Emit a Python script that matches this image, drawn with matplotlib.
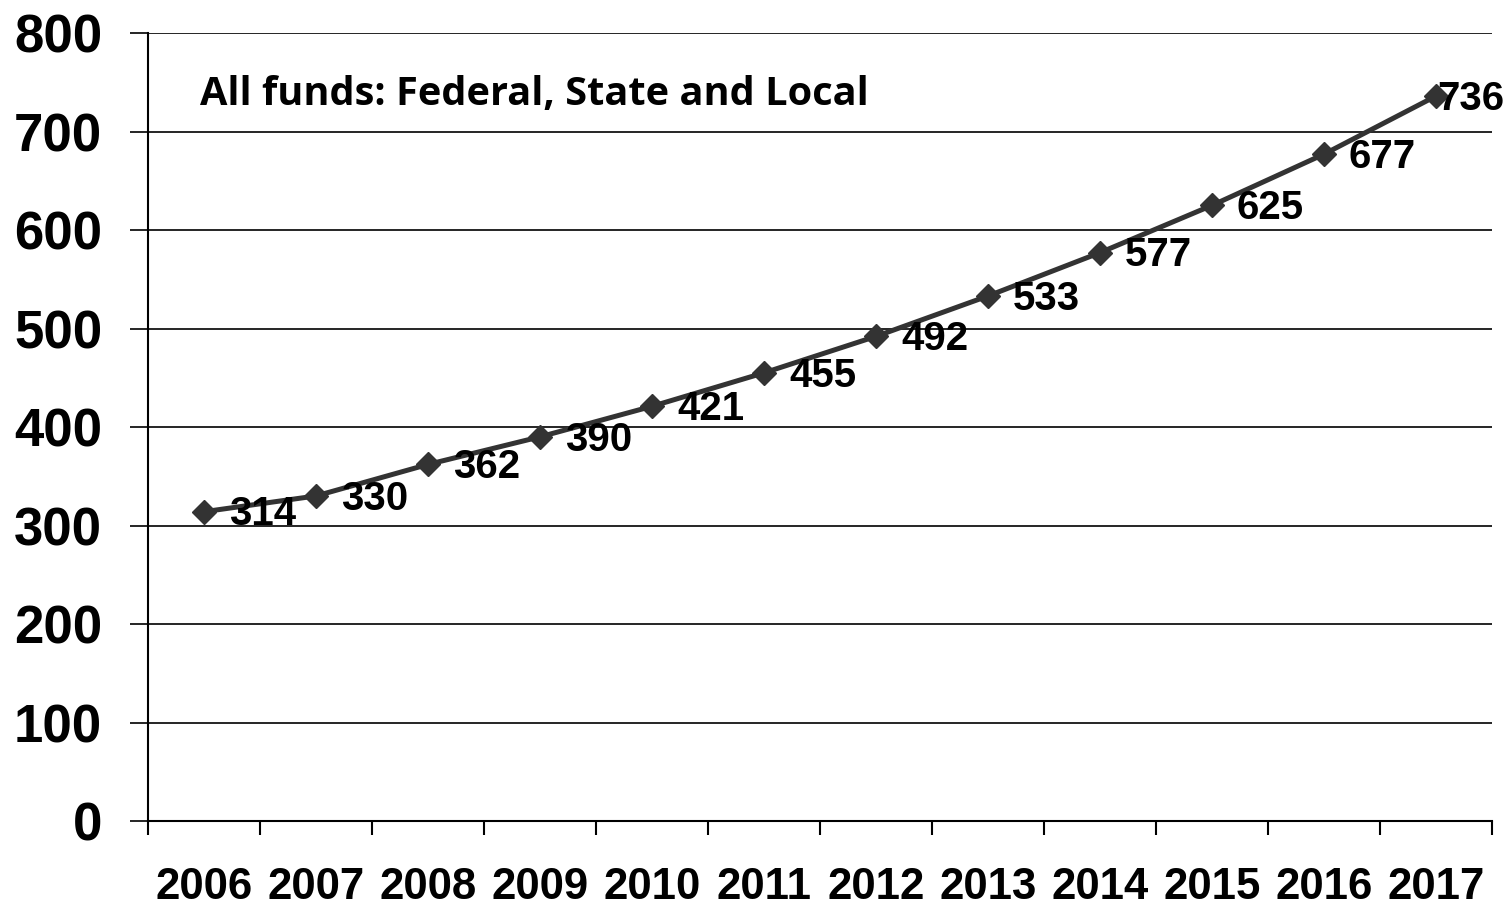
import numpy as np
import matplotlib.pyplot as plt

years = ['2006', '2007', '2008', '2009', '2010', '2011',
         '2012', '2013', '2014', '2015', '2016', '2017']
values = [314, 330, 362, 390, 421, 455, 492, 533, 577, 625, 677, 736]
title_text = 'All funds: Federal, State and Local'

x = np.arange(len(years))

fig = plt.figure(figsize=(15.1, 9.05), dpi=100)
ax = fig.add_axes([148/1510, 1 - 821/905, (1492-148)/1510, (821-33)/905])

ax.plot(x, values, color='#333333', lw=3.6, marker='D', markersize=12.5,
        markerfacecolor='#333333', markeredgecolor='#333333', zorder=3)

for i, (xi, v) in enumerate(zip(x, values)):
    # last label is pushed left so it stays inside the figure
    dx = 1 if i == len(values) - 1 else 18
    ax.annotate(str(v), (xi, v), xytext=(dx, -2), textcoords='offset points',
                ha='left', va='center', fontsize=29, fontweight='bold',
                family='Liberation Sans', color='black', zorder=4)

ax.set_xlim(-0.5, len(years) - 0.5)
ax.set_ylim(0, 800)
ax.set_yticks(np.arange(0, 801, 100))
ax.yaxis.grid(True, color='black', lw=1.2)
ax.set_axisbelow(True)

ax.set_xticks(x)
ax.set_xticklabels(years)
ax.set_xticks(np.arange(-0.5, len(years)), minor=True)
ax.tick_params(axis='x', which='major', length=0, pad=33)
ax.tick_params(axis='x', which='minor', length=10, width=1.5, direction='out')
ax.tick_params(axis='y', length=13, width=1.2, pad=20)

for lab in ax.get_xticklabels():
    lab.set_fontsize(31.5)
    lab.set_fontweight('bold')
    lab.set_family('Liberation Sans')
for lab in ax.get_yticklabels():
    lab.set_fontsize(38)
    lab.set_fontweight('bold')
    lab.set_family('Liberation Sans')

for side in ['top', 'right']:
    ax.spines[side].set_visible(False)
ax.spines['left'].set_linewidth(1.5)
ax.spines['bottom'].set_linewidth(1.5)

fig.text(200/1510, 1 - 105/905, title_text, fontsize=28.6, fontweight='bold',
         family='Open Sans', ha='left', va='baseline')

fig.savefig('out.png', dpi=100)
